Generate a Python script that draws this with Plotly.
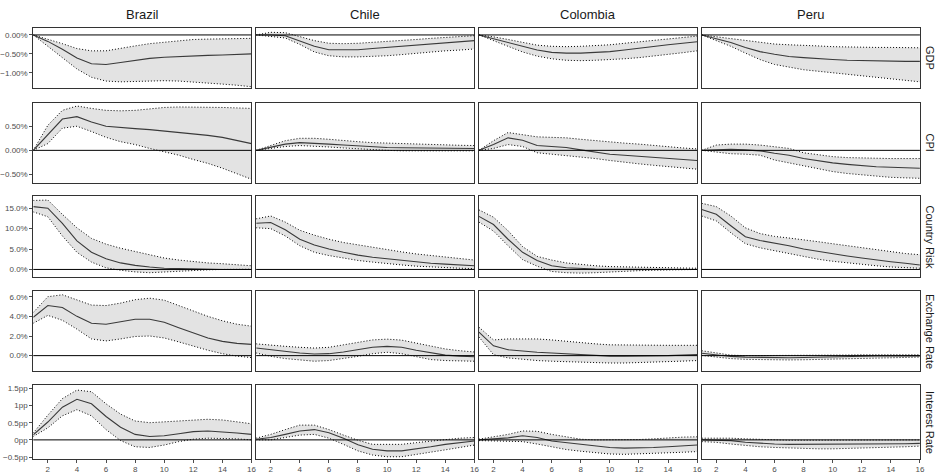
import plotly.graph_objects as go

horizons = list(range(1, 17))
countries = ["Brazil", "Chile", "Colombia", "Peru"]
variables = ["GDP", "CPI", "Country Risk", "Exchange Rate", "Interest Rate"]

x_tick_vals = [2, 4, 6, 8, 10, 12, 14, 16]
y_tick_vals = {
    "GDP": [0.0, -0.5, -1.0],
    "CPI": [-0.5, 0.0, 0.5],
    "Country Risk": [0, 5, 10, 15],
    "Exchange Rate": [0, 2, 4, 6],
    "Interest Rate": [-0.5, 0, 0.5, 1, 1.5],
}
y_tick_text = {
    "GDP": ["0.00%", "\u22120.50%", "\u22121.00%"],
    "CPI": ["\u22120.50%", "0.00%", "0.50%"],
    "Country Risk": ["0.0%", "5.0%", "10.0%", "15.0%"],
    "Exchange Rate": ["0.0%", "2.0%", "4.0%", "6.0%"],
    "Interest Rate": ["\u22120.5pp", "0pp", "0.5pp", "1pp", "1.5pp"],
}

# ---------------- Brazil ----------------
bra_gdp_mid = [0, -0.17, -0.38, -0.61, -0.76, -0.78, -0.73, -0.67, -0.62, -0.59, -0.57, -0.55, -0.54, -0.53, -0.51, -0.50]
bra_gdp_hi = [0, -0.11, -0.23, -0.36, -0.42, -0.42, -0.35, -0.29, -0.23, -0.19, -0.15, -0.12, -0.11, -0.10, -0.10, -0.09]
bra_gdp_lo = [0, -0.29, -0.60, -0.90, -1.12, -1.22, -1.24, -1.23, -1.22, -1.21, -1.22, -1.24, -1.27, -1.30, -1.33, -1.37]

bra_cpi_mid = [0, 0.32, 0.65, 0.70, 0.59, 0.50, 0.47, 0.45, 0.43, 0.40, 0.38, 0.35, 0.31, 0.27, 0.21, 0.14]
bra_cpi_hi = [0, 0.52, 0.83, 0.92, 0.87, 0.83, 0.82, 0.83, 0.86, 0.89, 0.90, 0.90, 0.90, 0.89, 0.88, 0.87]
bra_cpi_lo = [0, 0.14, 0.46, 0.50, 0.39, 0.27, 0.18, 0.12, 0.04, -0.03, -0.10, -0.19, -0.27, -0.37, -0.48, -0.60]

bra_risk_mid = [15.4, 15.0, 11.3, 7.0, 4.2, 2.6, 1.6, 1.0, 0.6, 0.3, 0.2, 0.1, 0.05, 0.0, 0.0, 0.0]
bra_risk_hi = [16.9, 17.0, 13.5, 10.2, 7.6, 6.2, 5.2, 4.4, 3.5, 2.8, 2.3, 1.9, 1.6, 1.4, 1.1, 0.9]
bra_risk_lo = [14.1, 12.9, 8.2, 4.2, 1.8, 0.4, -0.2, -0.6, -0.8, -0.6, -0.4, -0.2, -0.1, 0.0, 0.0, 0.05]

bra_fx_mid = [3.9, 5.1, 4.9, 4.0, 3.3, 3.2, 3.45, 3.7, 3.7, 3.4, 2.85, 2.3, 1.8, 1.45, 1.25, 1.15]
bra_fx_hi = [4.4, 6.0, 6.2, 5.7, 5.15, 5.1, 5.35, 5.7, 5.85, 5.65, 5.1, 4.5, 4.0, 3.55, 3.2, 3.0]
bra_fx_lo = [3.3, 4.1, 3.6, 2.7, 1.7, 1.5, 1.7, 1.95, 2.0, 1.8, 1.4, 0.95, 0.55, 0.2, -0.05, -0.2]

bra_rate_mid = [0.15, 0.52, 0.95, 1.18, 1.05, 0.68, 0.37, 0.16, 0.10, 0.12, 0.18, 0.24, 0.26, 0.24, 0.20, 0.16]
bra_rate_hi = [0.2, 0.72, 1.2, 1.45, 1.4, 1.05, 0.75, 0.55, 0.5, 0.52, 0.55, 0.58, 0.6, 0.58, 0.52, 0.47]
bra_rate_lo = [0.1, 0.35, 0.7, 0.88, 0.7, 0.3, -0.02, -0.2, -0.22, -0.15, -0.05, 0.02, 0.05, 0.05, 0.03, 0.0]

# ---------------- Chile ----------------
chl_gdp_mid = [0, 0, -0.02, -0.15, -0.30, -0.39, -0.40, -0.39, -0.36, -0.33, -0.30, -0.27, -0.24, -0.21, -0.18, -0.15]
chl_gdp_hi = [0, 0.07, 0.06, -0.04, -0.15, -0.22, -0.23, -0.22, -0.20, -0.18, -0.15, -0.12, -0.09, -0.06, -0.04, -0.02]
chl_gdp_lo = [0, -0.03, -0.08, -0.25, -0.45, -0.55, -0.58, -0.58, -0.57, -0.55, -0.52, -0.48, -0.45, -0.42, -0.40, -0.37]

chl_cpi_mid = [0, 0.07, 0.13, 0.16, 0.15, 0.13, 0.11, 0.09, 0.07, 0.06, 0.055, 0.05, 0.05, 0.05, 0.045, 0.04]
chl_cpi_hi = [0, 0.10, 0.20, 0.25, 0.25, 0.23, 0.20, 0.18, 0.16, 0.15, 0.13, 0.12, 0.115, 0.11, 0.105, 0.10]
chl_cpi_lo = [0, 0.04, 0.08, 0.10, 0.09, 0.07, 0.05, 0.03, 0.01, 0.0, -0.01, -0.01, -0.01, -0.01, -0.01, -0.01]

chl_risk_mid = [11.3, 11.5, 9.7, 7.4, 6.0, 5.0, 4.2, 3.5, 3.0, 2.6, 2.2, 1.8, 1.5, 1.3, 1.1, 0.9]
chl_risk_hi = [12.4, 13.1, 11.6, 9.6, 8.4, 7.4, 6.6, 6.0, 5.4, 4.8, 4.3, 3.8, 3.4, 3.0, 2.6, 2.3]
chl_risk_lo = [10.2, 10.0, 8.2, 5.8, 4.2, 3.4, 2.8, 2.2, 1.8, 1.4, 1.1, 0.8, 0.6, 0.4, 0.3, 0.2]

chl_fx_mid = [0.77, 0.6, 0.45, 0.27, 0.17, 0.2, 0.37, 0.6, 0.85, 0.94, 0.85, 0.55, 0.27, 0.05, -0.05, -0.12]
chl_fx_hi = [1.2, 1.05, 0.95, 0.85, 0.77, 0.85, 1.1, 1.38, 1.6, 1.68, 1.58, 1.28, 0.95, 0.68, 0.5, 0.37]
chl_fx_lo = [0.27, -0.07, -0.3, -0.44, -0.57, -0.5, -0.3, -0.07, 0.2, 0.34, 0.2, -0.13, -0.4, -0.5, -0.57, -0.57]

chl_rate_mid = [0.02, 0.07, 0.16, 0.26, 0.30, 0.21, 0.05, -0.14, -0.27, -0.32, -0.32, -0.27, -0.20, -0.13, -0.08, -0.03]
chl_rate_hi = [0.05, 0.16, 0.30, 0.43, 0.43, 0.30, 0.14, -0.01, -0.13, -0.14, -0.13, -0.08, -0.03, 0.02, 0.05, 0.07]
chl_rate_lo = [0.0, 0.0, 0.07, 0.14, 0.16, 0.05, -0.13, -0.32, -0.44, -0.49, -0.49, -0.43, -0.37, -0.29, -0.22, -0.15]

# ---------------- Colombia ----------------
col_gdp_mid = [0, -0.10, -0.22, -0.32, -0.40, -0.46, -0.48, -0.48, -0.46, -0.44, -0.40, -0.35, -0.30, -0.26, -0.22, -0.18]
col_gdp_hi = [0, -0.05, -0.12, -0.20, -0.27, -0.30, -0.31, -0.30, -0.28, -0.26, -0.22, -0.18, -0.14, -0.10, -0.06, -0.03]
col_gdp_lo = [0, -0.15, -0.30, -0.45, -0.56, -0.63, -0.67, -0.68, -0.67, -0.66, -0.63, -0.60, -0.56, -0.52, -0.47, -0.42]

col_cpi_mid = [0, 0.12, 0.26, 0.21, 0.10, 0.08, 0.06, 0.01, -0.04, -0.08, -0.10, -0.12, -0.15, -0.17, -0.19, -0.21]
col_cpi_hi = [0, 0.20, 0.37, 0.33, 0.28, 0.27, 0.26, 0.23, 0.20, 0.18, 0.15, 0.13, 0.10, 0.08, 0.05, 0.03]
col_cpi_lo = [0, 0.04, 0.12, 0.08, -0.05, -0.08, -0.10, -0.13, -0.17, -0.21, -0.25, -0.28, -0.31, -0.34, -0.37, -0.39]

col_risk_mid = [13.0, 11.0, 7.4, 4.2, 2.2, 0.9, 0.4, 0.2, 0.1, 0.05, 0.02, 0.0, 0.0, 0.0, 0.0, 0.0]
col_risk_hi = [14.6, 12.8, 9.5, 5.6, 3.2, 2.3, 1.6, 1.2, 0.9, 0.7, 0.6, 0.5, 0.45, 0.4, 0.35, 0.3]
col_risk_lo = [11.6, 9.4, 5.8, 2.4, 0.8, -0.5, -0.8, -0.9, -0.8, -0.6, -0.4, -0.3, -0.2, -0.1, -0.05, 0.0]

col_fx_mid = [2.4, 1.0, 0.6, 0.45, 0.35, 0.27, 0.18, 0.08, 0.0, -0.05, -0.05, -0.05, -0.03, 0.0, 0.05, 0.1]
col_fx_hi = [2.9, 1.6, 1.7, 1.7, 1.7, 1.6, 1.45, 1.28, 1.2, 1.1, 1.07, 1.05, 1.05, 1.05, 1.05, 1.05]
col_fx_lo = [1.9, 0.1, -0.23, -0.4, -0.5, -0.57, -0.63, -0.7, -0.73, -0.75, -0.75, -0.72, -0.68, -0.62, -0.56, -0.5]

col_rate_mid = [0.0, 0.03, 0.06, 0.12, 0.07, -0.03, -0.08, -0.14, -0.19, -0.22, -0.24, -0.24, -0.22, -0.20, -0.17, -0.15]
col_rate_hi = [0.02, 0.08, 0.16, 0.26, 0.25, 0.16, 0.08, 0.02, 0.0, 0.0, 0.0, 0.01, 0.03, 0.06, 0.08, 0.09]
col_rate_lo = [-0.02, -0.03, -0.03, -0.05, -0.12, -0.2, -0.28, -0.33, -0.38, -0.41, -0.42, -0.41, -0.40, -0.38, -0.36, -0.34]

# ---------------- Peru ----------------
per_gdp_mid = [0, -0.09, -0.20, -0.33, -0.44, -0.51, -0.57, -0.60, -0.63, -0.65, -0.67, -0.68, -0.69, -0.69, -0.70, -0.70]
per_gdp_hi = [0, -0.05, -0.10, -0.16, -0.21, -0.24, -0.26, -0.27, -0.29, -0.31, -0.32, -0.33, -0.33, -0.33, -0.34, -0.34]
per_gdp_lo = [0, -0.15, -0.30, -0.48, -0.65, -0.78, -0.86, -0.92, -0.96, -1.00, -1.04, -1.08, -1.12, -1.17, -1.21, -1.24]

per_cpi_mid = [0, 0.01, 0.02, 0.01, -0.01, -0.06, -0.10, -0.17, -0.22, -0.26, -0.29, -0.32, -0.34, -0.35, -0.36, -0.37]
per_cpi_hi = [0, 0.11, 0.13, 0.13, 0.11, 0.08, 0.04, -0.05, -0.09, -0.13, -0.15, -0.16, -0.17, -0.17, -0.17, -0.17]
per_cpi_lo = [0, -0.04, -0.07, -0.08, -0.10, -0.20, -0.26, -0.32, -0.38, -0.44, -0.48, -0.51, -0.54, -0.56, -0.57, -0.58]

per_risk_mid = [14.7, 13.5, 10.7, 8.0, 7.1, 6.5, 5.8, 5.0, 4.4, 3.8, 3.3, 2.8, 2.3, 1.9, 1.5, 1.1]
per_risk_hi = [16.2, 15.4, 13.1, 10.2, 8.8, 8.1, 7.7, 7.3, 6.8, 6.3, 5.8, 5.3, 4.8, 4.3, 3.9, 3.6]
per_risk_lo = [13.1, 11.9, 9.0, 6.3, 5.3, 4.6, 3.8, 3.1, 2.5, 2.0, 1.6, 1.2, 0.9, 0.6, 0.4, 0.3]

per_fx_mid = [0.25, 0.1, -0.08, -0.15, -0.19, -0.21, -0.21, -0.19, -0.15, -0.11, -0.08, -0.06, -0.04, -0.03, -0.02, -0.02]
per_fx_hi = [0.5, 0.28, 0.05, 0.0, 0.0, 0.0, 0.0, 0.02, 0.03, 0.05, 0.06, 0.08, 0.08, 0.08, 0.08, 0.08]
per_fx_lo = [0.02, -0.15, -0.3, -0.38, -0.42, -0.44, -0.44, -0.42, -0.39, -0.35, -0.3, -0.25, -0.22, -0.2, -0.17, -0.15]

per_rate_mid = [0.0, 0.0, -0.02, -0.07, -0.10, -0.12, -0.13, -0.13, -0.13, -0.13, -0.13, -0.13, -0.12, -0.12, -0.11, -0.10]
per_rate_hi = [0.05, 0.06, 0.05, 0.03, 0.01, 0.0, -0.01, -0.01, -0.01, -0.01, 0.0, 0.0, 0.0, 0.0, 0.0, 0.0]
per_rate_lo = [-0.05, -0.07, -0.12, -0.17, -0.20, -0.22, -0.24, -0.25, -0.26, -0.26, -0.25, -0.25, -0.24, -0.22, -0.20, -0.18]

panels = {
    ("GDP", "Brazil"): (bra_gdp_lo, bra_gdp_mid, bra_gdp_hi),
    ("CPI", "Brazil"): (bra_cpi_lo, bra_cpi_mid, bra_cpi_hi),
    ("Country Risk", "Brazil"): (bra_risk_lo, bra_risk_mid, bra_risk_hi),
    ("Exchange Rate", "Brazil"): (bra_fx_lo, bra_fx_mid, bra_fx_hi),
    ("Interest Rate", "Brazil"): (bra_rate_lo, bra_rate_mid, bra_rate_hi),
    ("GDP", "Chile"): (chl_gdp_lo, chl_gdp_mid, chl_gdp_hi),
    ("CPI", "Chile"): (chl_cpi_lo, chl_cpi_mid, chl_cpi_hi),
    ("Country Risk", "Chile"): (chl_risk_lo, chl_risk_mid, chl_risk_hi),
    ("Exchange Rate", "Chile"): (chl_fx_lo, chl_fx_mid, chl_fx_hi),
    ("Interest Rate", "Chile"): (chl_rate_lo, chl_rate_mid, chl_rate_hi),
    ("GDP", "Colombia"): (col_gdp_lo, col_gdp_mid, col_gdp_hi),
    ("CPI", "Colombia"): (col_cpi_lo, col_cpi_mid, col_cpi_hi),
    ("Country Risk", "Colombia"): (col_risk_lo, col_risk_mid, col_risk_hi),
    ("Exchange Rate", "Colombia"): (col_fx_lo, col_fx_mid, col_fx_hi),
    ("Interest Rate", "Colombia"): (col_rate_lo, col_rate_mid, col_rate_hi),
    ("GDP", "Peru"): (per_gdp_lo, per_gdp_mid, per_gdp_hi),
    ("CPI", "Peru"): (per_cpi_lo, per_cpi_mid, per_cpi_hi),
    ("Country Risk", "Peru"): (per_risk_lo, per_risk_mid, per_risk_hi),
    ("Exchange Rate", "Peru"): (per_fx_lo, per_fx_mid, per_fx_hi),
    ("Interest Rate", "Peru"): (per_rate_lo, per_rate_mid, per_rate_hi),
}

# ---------------- layout geometry (pixels) ----------------
W, H = 945, 474
col_left = [32.5, 256.8, 481.0, 705.2]
col_width = 219.6
row_top = [27.0, 102.5, 196.8, 292.3, 387.5]
row_bottom = [88.0, 183.2, 278.3, 373.3, 461.7]
y_ranges = {
    "GDP": [-1.41, 0.19],
    "CPI": [-0.67, 0.99],
    "Country Risk": [-1.84, 17.96],
    "Exchange Rate": [-1.58, 6.6],
    "Interest Rate": [-0.55, 1.59],
}

FONT = "Liberation Sans, Arial, Helvetica, sans-serif"
BORDER = "#333333"
TICKCOL = "#4d4d4d"
DOT = "1px,2px"

fig = go.Figure()
layout = dict(
    width=W, height=H,
    margin=dict(l=0, r=0, t=0, b=0),
    paper_bgcolor="white", plot_bgcolor="white",
    showlegend=False,
    font=dict(family=FONT, color=TICKCOL),
)
shapes = []
annotations = []

for r, var in enumerate(variables):
    for c, country in enumerate(countries):
        i = r * 4 + c + 1
        xa = "x" if i == 1 else f"x{i}"
        ya = "y" if i == 1 else f"y{i}"
        lo, mid, hi = panels[(var, country)]

        fig.add_trace(go.Scatter(
            x=horizons, y=lo, xaxis=xa, yaxis=ya, mode="lines",
            line=dict(color="black", width=1, dash=DOT), hoverinfo="skip"))
        fig.add_trace(go.Scatter(
            x=horizons, y=hi, xaxis=xa, yaxis=ya, mode="lines",
            fill="tonexty", fillcolor="#e3e3e3",
            line=dict(color="black", width=1, dash=DOT), hoverinfo="skip"))
        fig.add_trace(go.Scatter(
            x=horizons, y=mid, xaxis=xa, yaxis=ya, mode="lines",
            line=dict(color="#3a3a3a", width=1.1)))

        x0 = col_left[c] / W
        x1 = (col_left[c] + col_width) / W
        y0 = 1 - row_bottom[r] / H
        y1 = 1 - row_top[r] / H

        layout["xaxis" if i == 1 else f"xaxis{i}"] = dict(
            domain=[x0, x1], anchor=ya, range=[1, 16],
            showgrid=False, zeroline=False,
            showline=True, mirror=True, linecolor=BORDER, linewidth=1,
            tickmode="array", tickvals=x_tick_vals,
            ticks="outside" if r == 4 else "", ticklen=3, tickcolor=TICKCOL,
            showticklabels=(r == 4),
            tickfont=dict(size=8, color=TICKCOL, family=FONT),
        )
        layout["yaxis" if i == 1 else f"yaxis{i}"] = dict(
            domain=[y0, y1], anchor=xa, range=y_ranges[var],
            showgrid=False, zeroline=False,
            showline=True, mirror=True, linecolor=BORDER, linewidth=1,
            tickmode="array", tickvals=y_tick_vals[var], ticktext=y_tick_text[var],
            ticks="outside" if c == 0 else "", ticklen=3, tickcolor=TICKCOL,
            showticklabels=(c == 0),
            tickfont=dict(size=8, color=TICKCOL, family=FONT),
        )
        shapes.append(dict(
            type="line", xref=f"{xa} domain", yref=ya,
            x0=0, x1=1, y0=0, y1=0,
            line=dict(color="black", width=1), layer="above"))

for c, country in enumerate(countries):
    annotations.append(dict(
        text=country, x=(col_left[c] + col_width / 2) / W, y=1 - 14 / H,
        xref="paper", yref="paper", showarrow=False,
        xanchor="center", yanchor="middle",
        font=dict(size=13, color="#1a1a1a", family=FONT)))

for r, var in enumerate(variables):
    annotations.append(dict(
        text=var, x=935 / W, y=1 - (row_top[r] + row_bottom[r]) / 2 / H,
        xref="paper", yref="paper", showarrow=False, textangle=90,
        xanchor="center", yanchor="middle",
        font=dict(size=11, color="#1a1a1a", family=FONT)))

layout["shapes"] = shapes
layout["annotations"] = annotations
fig.update_layout(**layout)
fig.write_html("out.html")
